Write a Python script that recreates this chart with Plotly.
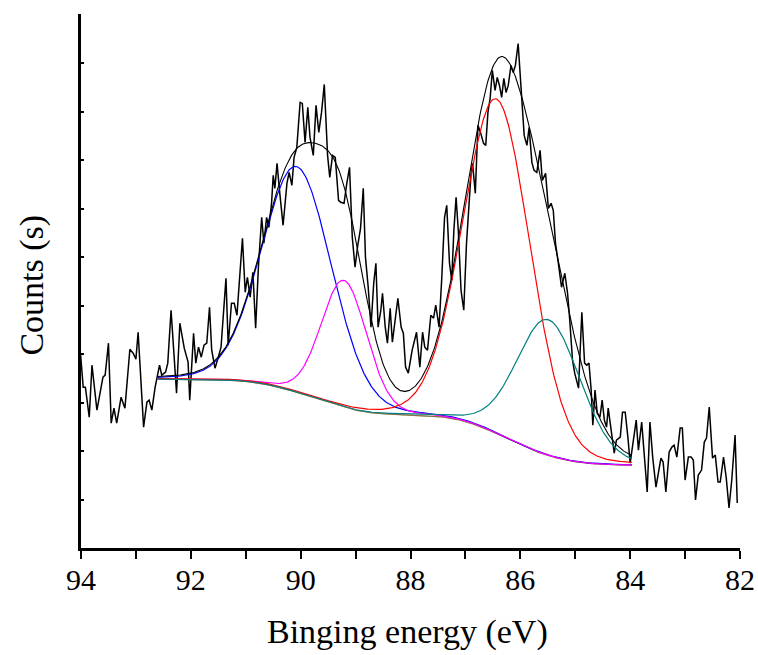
import numpy as np
import plotly.graph_objects as go

# ---------------- raw spectrum ----------------
energy = [
    94.01, 93.96, 93.92, 93.85, 93.80, 93.71, 93.60, 93.56, 93.50, 93.45, 93.40, 93.35,
    93.27, 93.20, 93.11, 93.05, 93.00, 92.96, 92.86, 92.80, 92.76, 92.71, 92.65, 92.57,
    92.53, 92.46, 92.42, 92.36, 92.26, 92.20, 92.12, 92.05, 92.02,
    91.95, 91.91, 91.86, 91.81, 91.76, 91.71, 91.66, 91.62, 91.56, 91.50, 91.45, 91.36,
    91.32, 91.26, 91.21, 91.16, 91.10, 91.06, 91.01, 90.97, 90.92, 90.87, 90.82, 90.77,
    90.71, 90.67, 90.62, 90.58, 90.53, 90.50, 90.47, 90.43, 90.38, 90.32, 90.25, 90.21,
    90.16, 90.12, 90.07, 90.01,
    89.97, 89.92, 89.87, 89.83, 89.77, 89.72, 89.67, 89.62, 89.57, 89.51, 89.47, 89.42,
    89.37, 89.31, 89.27, 89.21, 89.16, 89.11, 89.06, 89.01, 88.96, 88.91, 88.86, 88.82,
    88.77, 88.72, 88.67, 88.63, 88.59, 88.54, 88.51, 88.46, 88.42, 88.37, 88.33, 88.28,
    88.23, 88.17, 88.13, 88.09, 88.04,
    87.97, 87.89, 87.83, 87.78, 87.74, 87.69, 87.63, 87.58, 87.54, 87.48, 87.43, 87.38,
    87.34, 87.29, 87.25, 87.21, 87.17, 87.13, 87.08, 87.03, 86.98, 86.93, 86.90, 86.87,
    86.82, 86.79, 86.77, 86.72, 86.67, 86.63, 86.59, 86.55, 86.51, 86.46, 86.42, 86.38,
    86.34, 86.30, 86.26, 86.22, 86.17, 86.13, 86.09, 86.04,
    85.97, 85.93, 85.88, 85.84, 85.79, 85.75, 85.70, 85.64, 85.60, 85.54, 85.49, 85.44,
    85.40, 85.36, 85.31, 85.25, 85.19, 85.14, 85.10, 85.05, 85.01, 84.94, 84.88, 84.83,
    84.79, 84.75, 84.71, 84.68, 84.64, 84.60, 84.55, 84.51, 84.47, 84.43, 84.40, 84.35,
    84.29, 84.25, 84.18, 84.14, 84.09, 84.04, 84.00,
    83.89, 83.85, 83.79, 83.74, 83.69, 83.64, 83.59, 83.53, 83.49, 83.44, 83.40, 83.35,
    83.29, 83.24, 83.20, 83.15, 83.09, 83.05, 83.00, 82.94, 82.89, 82.85, 82.81, 82.76,
    82.70, 82.65, 82.61, 82.56, 82.50, 82.45, 82.40, 82.36, 82.30, 82.25, 82.20, 82.15,
    82.09, 82.05,
]
counts = [
    195, 161, 161, 131, 183, 138, 171, 173, 205, 125, 140, 125,
    151, 140, 199, 195, 189, 216, 121, 146, 148, 138, 161, 183,
    173, 176, 185, 238, 155, 225, 200, 186, 148,
    215, 185, 201, 191, 203, 205, 241, 198, 180, 191, 201, 270,
    203, 245, 245, 233, 281, 310, 256, 271, 251, 276, 220, 281,
    331, 305, 331, 321, 345, 373, 360, 385, 355, 323, 365, 376,
    363, 391, 401, 446,
    445, 406, 441, 411, 393, 443, 416, 436, 464, 393, 371, 393,
    391, 348, 346, 345, 365, 381, 311, 281, 303, 320, 360, 291,
    261, 221, 265, 285, 221, 238, 255, 221, 205, 240, 206, 231,
    250, 221, 215, 181, 175,
    198, 216, 181, 216, 201, 198, 233, 230, 243, 221, 271, 331,
    343, 285, 268, 318, 351, 318, 258, 238, 305, 348, 373, 385,
    355, 398, 423, 415, 405, 403, 436, 450, 478, 458, 471, 463,
    451, 470, 456, 463, 483, 476, 483, 505,
    451, 413, 403, 421, 386, 378, 376, 398, 368, 375, 340, 345,
    338, 305, 286, 261, 275, 255, 228, 188, 175, 160, 236, 185,
    183, 185, 158, 123, 158, 135, 131, 148, 128, 121, 140, 118,
    95, 108, 111, 136, 136, 110, 85,
    128, 98, 126, 91, 56, 126, 91, 61, 73, 90, 86, 56,
    96, 101, 103, 91, 120, 120, 68, 91, 91, 88, 48, 73,
    78, 106, 110, 141, 90, 93, 66, 66, 91, 70, 40, 68,
    113, 45,
]

# ---------------- fit parameters ----------------
fit_range = [92.61, 83.97]          # high-BE end, low-BE end
bg_ends = [169, 83]                 # background level at the two ends
peak_centers = [90.07, 89.21, 86.43, 85.49]
peak_heights = [226, 127, 335, 136]
peak_fwhm = [1.50, 0.98, 1.44, 1.37]
peak_colors = ["#0000FF", "#FF00FF", "#FF0000", "#008080"]
lorentz_frac = 0.10

x_ticks = [94, 92, 90, 88, 86, 84, 82]

# ---------------- model curves ----------------
xf = np.linspace(fit_range[0], fit_range[1], 500)


def pseudo_voigt(x, c, h, w, eta):
    g = np.exp(-4 * np.log(2) * ((x - c) / w) ** 2)
    lo = 1.0 / (1.0 + ((x - c) / (w / 2)) ** 2)
    return h * (eta * lo + (1 - eta) * g)


peaks = [pseudo_voigt(xf, c, h, w, lorentz_frac)
         for c, h, w in zip(peak_centers, peak_heights, peak_fwhm)]
total_peak = np.sum(peaks, axis=0)
# Shirley-type background: proportional to the peak area on the low-BE side
xa = xf[::-1]
ta = total_peak[::-1]
cum = np.concatenate([[0], np.cumsum(0.5 * (ta[1:] + ta[:-1]) * np.diff(xa))])
frac = cum / cum[-1]
bg = (bg_ends[1] + (bg_ends[0] - bg_ends[1]) * frac)[::-1]
envelope = bg + total_peak

fig = go.Figure()
fig.add_trace(go.Scatter(x=energy, y=counts, mode="lines",
                         line=dict(color="black", width=1.5), showlegend=False))
fig.add_trace(go.Scatter(x=xf, y=bg, mode="lines",
                         line=dict(color="#808000", width=1.3), showlegend=False))
fig.add_trace(go.Scatter(x=xf, y=bg, mode="lines", opacity=0.5,
                         line=dict(color="#A0609A", width=1.3), showlegend=False))
for p, col in zip(peaks, peak_colors):
    fig.add_trace(go.Scatter(x=xf, y=bg + p, mode="lines",
                             line=dict(color=col, width=1.2), showlegend=False))
fig.add_trace(go.Scatter(x=xf, y=envelope, mode="lines",
                         line=dict(color="black", width=1.1), showlegend=False))

font_family = "Liberation Serif, Times New Roman, serif"
fig.update_layout(
    width=758, height=655,
    margin=dict(l=81, r=18, t=14, b=107, autoexpand=False),
    paper_bgcolor="white", plot_bgcolor="white",
    font=dict(family=font_family, color="black"),
    annotations=[
        dict(text="Binging energy (eV)", xref="paper", yref="paper",
             x=0.496, y=-0.157, xanchor="center", yanchor="middle",
             showarrow=False, font=dict(size=34, family=font_family)),
        dict(text="Counts (s)", xref="paper", yref="paper",
             x=-0.075, y=0.4925, xanchor="center", yanchor="middle", textangle=-90,
             showarrow=False, font=dict(size=34, family=font_family)),
    ],
)
fig.update_xaxes(
    range=[94, 82], tickmode="array", tickvals=x_ticks,
    ticktext=[str(t) for t in x_ticks],
    ticks="outside", ticklen=8, tickwidth=2, tickcolor="black",
    minor=dict(dtick=1, tick0=0, ticks="outside", ticklen=8, tickwidth=2, tickcolor="black"),
    showline=True, linewidth=2.5, linecolor="black", showgrid=False, zeroline=False,
    tickfont=dict(size=30, family=font_family), ticklabelstandoff=-5,
    automargin=False,
)
fig.update_yaxes(
    range=[0, 534.5], tick0=0, dtick=534 / 11,
    ticks="inside", ticklen=3, tickwidth=2, tickcolor="black",
    showticklabels=False,
    showline=True, linewidth=2.5, linecolor="black", showgrid=False, zeroline=False,
    automargin=False,
)

fig.write_html(
    "out.html",
    config={"displayModeBar": False},
    post_script="document.body.style.margin='0';document.body.style.overflow='hidden';",
)
